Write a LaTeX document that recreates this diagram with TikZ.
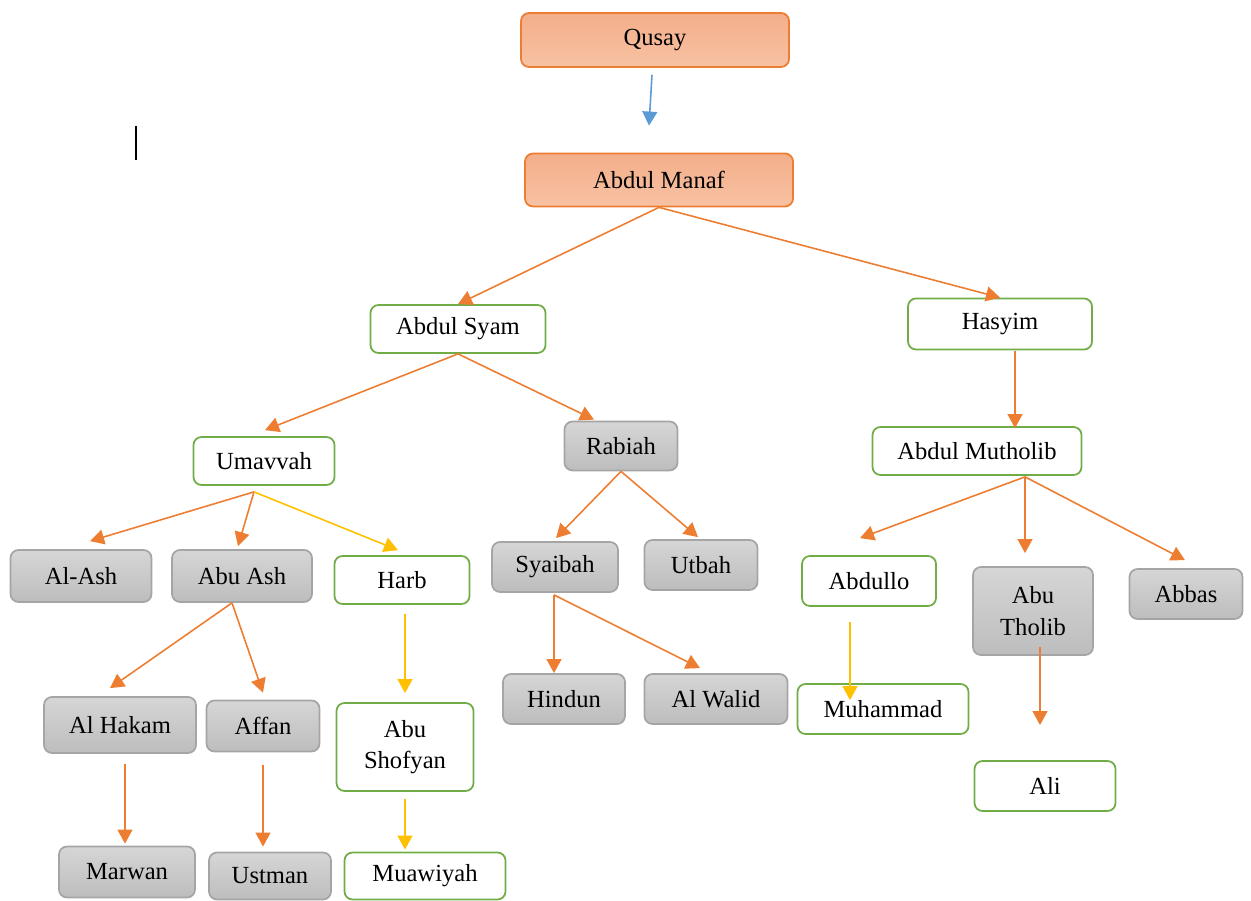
\documentclass[tikz,border=0pt]{standalone}
\usepackage{fontspec}
\setmainfont{Liberation Serif}
\usetikzlibrary{calc}
\usetikzlibrary{arrows.meta}

\definecolor{lineorange}{HTML}{ED7D31}
\definecolor{lineyellow}{HTML}{FFC000}
\definecolor{lineblue}{HTML}{5B9BD5}
\definecolor{boxgreen}{HTML}{70AD47}
\definecolor{grayline}{HTML}{A5A5A5}
\definecolor{graytop}{HTML}{D6D6D6}
\definecolor{graybot}{HTML}{BDBDBD}
\definecolor{salmontop}{HTML}{F4AE8A}
\definecolor{salmonbot}{HTML}{F7C2A3}

\tikzset{
  base/.style={rounded corners=0.16cm, line width=1pt, align=center,
    font=\fontsize{14}{18}\selectfont, inner sep=2pt},
  sz/.style 2 args={minimum width=#1*0.02cm, minimum height=#2*0.02cm},
  orangebox/.style={base, draw=lineorange, top color=salmontop, bottom color=salmonbot},
  graybox/.style={base, draw=grayline, top color=graytop, bottom color=graybot},
  greenbox/.style={base, draw=boxgreen, fill=white},
  arr/.style={draw=lineorange, line width=0.9pt, -{Triangle[length=8pt,width=8.5pt]}},
  yarr/.style={arr, draw=lineyellow},
  barr/.style={arr, draw=lineblue}
}

\begin{document}
\begin{tikzpicture}[x=0.02cm, y=-0.02cm]
\useasboundingbox (0,0) rectangle (1251,901);

% ancestors
\node[orangebox, sz={268}{54}] (qusay) at (655,40) {Qusay};
\node[orangebox, sz={268}{53}] (manaf) at (659,180) {Abdul Manaf};

\node[greenbox, sz={175}{48}] (syam) at (458,329) {Abdul Syam};
\node[greenbox, sz={184}{51}] (hasyim) at (1000,324) {Hasyim};

\node[greenbox, sz={141}{48}] (umavvah) at (264,461) {Umavvah};
\node[graybox, sz={113}{49}] (rabiah) at (621,446) {Rabiah};
\node[greenbox, sz={209}{48}] (mutholib) at (977,451) {Abdul Mutholib};

% third row
\node[graybox, sz={141}{52}] (alash) at (81,576) {Al-Ash};
\node[graybox, sz={140}{52}] (abuash) at (242,576) {Abu Ash};
\node[greenbox, sz={135}{48}] (harb) at (402,580) {Harb};
\node[graybox, sz={126}{50}] (syaibah) at (555,567) {Syaibah};
\node[graybox, sz={113}{50}] (utbah) at (701,565) {Utbah};
\node[greenbox, sz={134}{50}] (abdullo) at (869,581) {Abdullo};
\node[graybox, sz={120}{88}] (abutholib) at (1033,611) {Abu\\Tholib};
\node[graybox, sz={113}{50}] (abbas) at (1186,594) {Abbas};

% fourth row
\node[graybox, sz={152}{56}] (alhakam) at (120,725) {Al Hakam};
\node[graybox, sz={113}{51}] (affan) at (263,726) {Affan};
\node[greenbox, sz={137}{88}] (shofyan) at (405,747) {Abu\\Shofyan};
\node[graybox, sz={122}{50}] (hindun) at (564,699) {Hindun};
\node[graybox, sz={143}{50}] (walid) at (716,699) {Al Walid};
\node[greenbox, sz={171}{50}] (muhammad) at (883,709) {Muhammad};
\node[greenbox, sz={141}{50}] (ali) at (1045,786) {Ali};

% last row
\node[graybox, sz={136}{51}] (marwan) at (127,872) {Marwan};
\node[graybox, sz={122}{47}] (ustman) at (270,876) {Ustman};
\node[greenbox, sz={161}{47}] (muawiyah) at (425,876) {Muawiyah};

% connectors
\draw[barr] ($(qusay.south)+(-3,7)$) -- ($(manaf.north)+(-10,-27)$);
\draw[arr] (manaf.south) -- (syam.north);
\draw[arr] (manaf.south) -- (hasyim.north);

\draw[arr] (syam.south) -- ($(umavvah.north)+(1,-6)$);
\draw[arr] (syam.south) -- ($(rabiah.north)+(-27,-1)$);
\draw[arr] ($(hasyim.south)+(15,1)$) -- ($(mutholib.north)+(38,2)$);

\coordinate (uj) at ($(umavvah.south)+(-10,6)$);
\draw[arr] (uj) -- ($(alash.north)+(9,-8)$);
\draw[arr] (uj) -- ($(abuash.north)+(-4,-3)$);
\draw[yarr] (uj) -- ($(harb.north)+(-4,-5)$);

\draw[arr] (rabiah.south) -- ($(syaibah.north)+(1,-3)$);
\draw[arr] (rabiah.south) -- ($(utbah.north)+(-3,-2)$);

\coordinate (mj) at ($(mutholib.south)+(48,1)$);
\draw[arr] (mj) -- ($(abdullo.north)+(-9,-17)$);
\draw[arr] (mj) -- ($(abutholib.north)+(-8,-13)$);
\draw[arr] (mj) -- ($(abbas.north)+(-1,-8)$);

\coordinate (aj) at ($(abuash.south)+(-10,0)$);
\draw[arr] (aj) -- ($(alhakam.north)+(-10,-8)$);
\draw[arr] (aj) -- ($(affan.north)+(0,-7)$);
\draw[yarr] ($(harb.south)+(3,9)$) -- ($(shofyan.north)+(0,-9)$);

\coordinate (sj) at ($(syaibah.south)+(-1,2)$);
\draw[arr] (sj) -- ($(hindun.north)+(-10,0)$);
\draw[arr] (sj) -- ($(walid.north)+(-16,-5)$);

\draw[yarr] ($(abdullo.south)+(-19,15)$) -- ($(muhammad.north)+(-33,17)$);
\draw[arr] ($(abutholib.south)+(7,-9)$) -- ($(ali.north)+(-5,-35)$);

\draw[arr] ($(alhakam.south)+(5,10)$) -- ($(marwan.north)+(-2,-2)$);
\draw[arr] ($(affan.south)+(0,13)$) -- ($(ustman.north)+(-7,-5)$);
\draw[yarr] ($(shofyan.south)+(0,7)$) -- ($(muawiyah.north)+(-20,-2)$);

% text cursor
\draw[line width=1.1pt] (136,126) -- (136,160);

\end{tikzpicture}
\end{document}
